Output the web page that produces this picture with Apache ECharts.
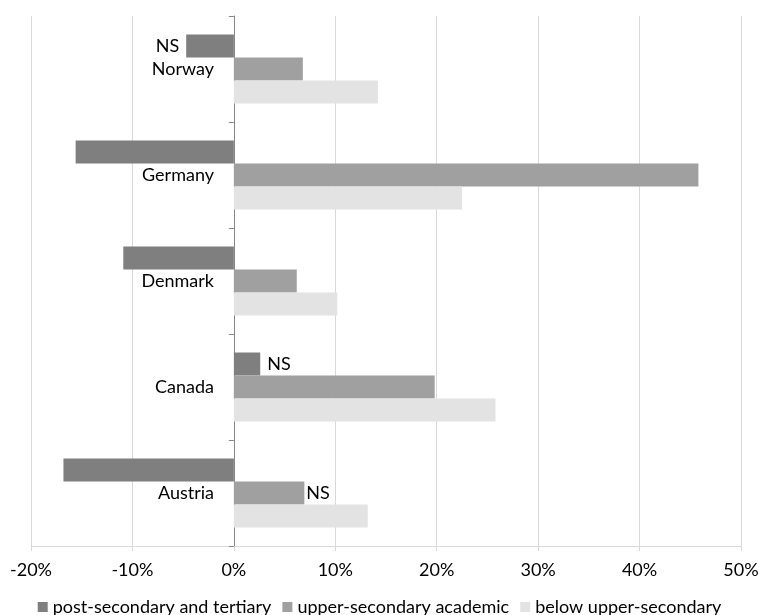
<!DOCTYPE html>
<html>
<head>
<meta charset="utf-8">
<script src="https://cdn.jsdelivr.net/npm/echarts@6/dist/echarts.min.js"></script>
<style>
html,body{margin:0;padding:0;background:#fff;}
#chart{width:759px;height:615px;}
</style>
</head>
<body>
<div id="chart"></div>
<script>
const categories = ['Norway', 'Germany', 'Denmark', 'Canada', 'Austria'];
const seriesNames = ['post-secondary and tertiary', 'upper-secondary academic', 'below upper-secondary'];
const postSecondary = [-4.7, -15.6, -10.9, 2.6, -16.8];
const upperAcademic = [6.8, 45.8, 6.2, 19.8, 6.95];
const belowUpper = [14.2, 22.5, 10.2, 25.8, 13.2];
const postNS = ['NS', '', '', 'NS', ''];
const academicNS = ['', '', '', '', 'NS'];
const belowNS = ['', '', '', '', ''];
const xTicks = { min: -20, max: 50, interval: 10 };

const FONT = 'Lato';
const colors = ['#7f7f7f', '#a0a0a0', '#e3e3e3'];

function makeSeries(name, values, ns, color, labelGap) {
  return {
    name: name,
    type: 'bar',
    barWidth: 23,
    barGap: '0%',
    itemStyle: { color: color },
    data: values.map((v, i) => ({
      value: v,
      label: {
        show: ns[i] !== '',
        position: v < 0 ? 'left' : 'right',
        distance: labelGap,
        formatter: ns[i],
        color: '#000',
        fontFamily: FONT,
        fontSize: 18
      }
    }))
  };
}

const chart = echarts.init(document.getElementById('chart'), null, { renderer: 'canvas' });
chart.setOption({
  animation: false,
  backgroundColor: '#fff',
  textStyle: { fontFamily: FONT },
  grid: { left: 31, right: 18, top: 16, bottom: 69, containLabel: false, outerBoundsMode: 'none' },
  legend: {
    top: 598,
    left: 'center',
    icon: 'rect',
    itemWidth: 10,
    itemHeight: 10,
    itemGap: 11,
    padding: 0,
    textStyle: { fontFamily: FONT, fontSize: 18, color: '#000' },
    data: seriesNames
  },
  xAxis: {
    type: 'value',
    min: xTicks.min,
    max: xTicks.max,
    interval: xTicks.interval,
    axisLine: { show: true, lineStyle: { color: '#d9d9d9', width: 1 } },
    axisTick: { show: true, length: 5, lineStyle: { color: '#d9d9d9' } },
    splitLine: { show: true, lineStyle: { color: '#d9d9d9', width: 1 } },
    axisLabel: { formatter: '{value}%', color: '#000', fontFamily: FONT, fontSize: 18, margin: 15 }
  },
  yAxis: {
    type: 'category',
    data: categories,
    inverse: true,
    axisLine: { show: true, onZero: true, lineStyle: { color: '#868686', width: 1 } },
    axisTick: { show: true, length: 5, lineStyle: { color: '#868686' } },
    axisLabel: { color: '#000', fontFamily: FONT, fontSize: 18, margin: -183 },
    splitLine: { show: false }
  },
  series: [
    makeSeries(seriesNames[0], postSecondary, postNS, colors[0], 7),
    makeSeries(seriesNames[1], upperAcademic, academicNS, colors[1], 2),
    makeSeries(seriesNames[2], belowUpper, belowNS, colors[2], 2)
  ]
});
</script>
</body>
</html>
